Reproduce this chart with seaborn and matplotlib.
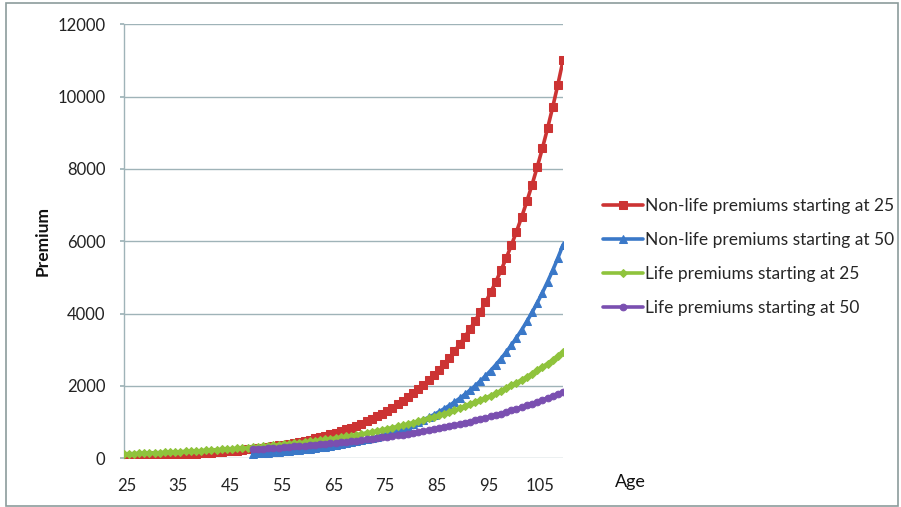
import matplotlib
matplotlib.use("Agg")
import matplotlib.pyplot as plt
from matplotlib.transforms import ScaledTranslation
from matplotlib.patches import Rectangle
import seaborn as sns
import pandas as pd

# Ages
ages_from_25 = list(range(25, 111))
ages_from_50 = list(range(50, 111))

# Annual premiums by age
nonlife_25 = [
    54, 58, 61, 65, 70, 74, 79, 84, 89, 95,
    101, 108, 115, 122, 130, 139, 147, 157, 167, 178,
    189, 202, 215, 228, 243, 259, 275, 293, 312, 332,
    354, 376, 401, 427, 454, 483, 515, 548, 583, 621,
    661, 703, 749, 797, 848, 903, 961, 1023, 1089, 1159,
    1234, 1314, 1398, 1489, 1585, 1687, 1796, 1911, 2035, 2166,
    2306, 2454, 2613, 2781, 2961, 3152, 3355, 3571, 3801, 4047,
    4308, 4585, 4881, 5196, 5531, 5888, 6268, 6672, 7102, 7560,
    8048, 8567, 9119, 9707, 10334, 11000,
]
nonlife_50 = [
    131, 139, 148, 158, 168, 180, 191, 204, 217, 231,
    247, 263, 280, 298, 318, 339, 361, 385, 410, 437,
    465, 496, 528, 563, 600, 639, 681, 726, 773, 824,
    878, 936, 997, 1062, 1132, 1206, 1285, 1370, 1459, 1555,
    1657, 1766, 1881, 2005, 2136, 2276, 2425, 2584, 2754, 2934,
    3127, 3332, 3550, 3783, 4031, 4295, 4577, 4877, 5196, 5537,
    5900,
]
life_25 = [
    120, 125, 129, 134, 140, 145, 150, 156, 162, 168,
    175, 182, 188, 196, 203, 211, 219, 227, 236, 245,
    255, 264, 274, 285, 296, 307, 319, 331, 344, 357,
    371, 385, 400, 415, 431, 447, 465, 482, 501, 520,
    540, 561, 582, 604, 627, 652, 676, 702, 729, 757,
    786, 816, 848, 880, 914, 949, 985, 1023, 1062, 1103,
    1145, 1189, 1235, 1282, 1331, 1382, 1435, 1490, 1547, 1606,
    1668, 1732, 1799, 1868, 1939, 2013, 2091, 2171, 2254, 2340,
    2430, 2523, 2620, 2720, 2824, 2932,
]
life_50 = [
    250, 259, 267, 276, 286, 295, 305, 316, 326, 337,
    349, 361, 373, 385, 399, 412, 426, 440, 455, 471,
    487, 503, 520, 538, 556, 575, 594, 614, 635, 657,
    679, 702, 726, 750, 776, 802, 829, 857, 886, 916,
    947, 979, 1013, 1047, 1082, 1119, 1157, 1196, 1236, 1278,
    1322, 1366, 1413, 1460, 1510, 1561, 1614, 1669, 1725, 1783,
    1844,
]

series_names = [
    "Non-life premiums starting at 25",
    "Non-life premiums starting at 50",
    "Life premiums starting at 25",
    "Life premiums starting at 50",
]
x_ticks = [25, 35, 45, 55, 65, 75, 85, 95, 105]
y_ticks = [0, 2000, 4000, 6000, 8000, 10000, 12000]

sns.set_theme(style="white")
plt.rcParams["font.family"] = ["Lato", "DejaVu Sans"]

fig = plt.figure(figsize=(9.01, 5.07), dpi=100)
fig.patch.set_facecolor("white")
ax = fig.add_axes([0.1371, 0.0961, 0.4878, 0.856])

grid_col = "#9fb3b8"
styles = [
    (ages_from_25, nonlife_25, "#cc3333", "s", 5.4),
    (ages_from_50, nonlife_50, "#3a78c8", "^", 5.6),
    (ages_from_25, life_25, "#8fc33c", "D", 4.4),
    (ages_from_50, life_50, "#7a4fb0", "o", 4.8),
]
for name, (xs, ys, col, mk, ms) in zip(series_names, styles):
    df = pd.DataFrame({"Age": xs, "Premium": ys})
    sns.lineplot(data=df, x="Age", y="Premium", ax=ax, color=col,
                 linewidth=2.6, marker=mk, markersize=ms,
                 markeredgecolor=col, markerfacecolor=col,
                 label=name, zorder=3)

ax.set_xlim(25, 110)
ax.set_ylim(0, 12000)
ax.set_xticks(x_ticks)
ax.set_yticks(y_ticks)
ax.set_xlabel("")
ax.set_ylabel("")
ax.grid(axis="y", color=grid_col, linewidth=1.0)
ax.grid(axis="x", visible=False)
for s in ["top", "right", "bottom"]:
    ax.spines[s].set_visible(False)
ax.spines["left"].set_color(grid_col)
ax.spines["left"].set_linewidth(1.0)
ax.tick_params(axis="y", length=3, color=grid_col, pad=10, labelsize=12,
               labelcolor="#222222", left=True)
ax.tick_params(axis="x", length=0, pad=14, labelsize=12, labelcolor="#222222")
for lbl in ax.get_xticklabels():
    lbl.set_transform(lbl.get_transform() + ScaledTranslation(3 / 100, 0, fig.dpi_scale_trans))

handles, labels = ax.get_legend_handles_labels()
ax.legend(handles, labels, loc="center left", bbox_to_anchor=(0.662, 0.493),
          bbox_transform=fig.transFigure, frameon=False, fontsize=12.5,
          handlelength=2.3, handletextpad=0.1, labelspacing=1.04,
          borderaxespad=0)

fig.text(43 / 901, 0.5247, "Premium", rotation=90, ha="center", va="center",
         fontsize=12.5, fontweight="bold", color="#111111")
fig.text(630 / 901, 1 - 482 / 507, "Age", ha="center", va="center",
         fontsize=13, color="#111111")

fig.add_artist(Rectangle((6 / 901, 1 / 507), 892 / 901, 503 / 507,
                         transform=fig.transFigure, fill=False,
                         edgecolor="#8c9c9c", linewidth=1.2))

fig.savefig("out.png", dpi=100, facecolor="white")
